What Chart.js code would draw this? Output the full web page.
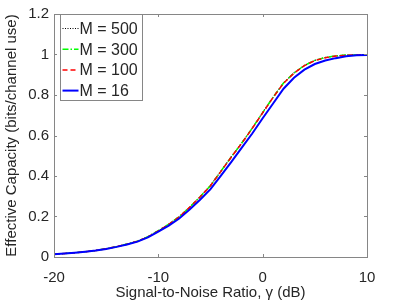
<!DOCTYPE html>
<html>
<head>
<meta charset="utf-8">
<script src="https://cdn.jsdelivr.net/npm/chart.js@4"></script>
<style>
  html, body { margin: 0; padding: 0; background: #fff; }
  #wrap { width: 403px; height: 302px; }
</style>
</head>
<body>
<div id="wrap"><canvas id="cap-chart" width="403" height="302"></canvas></div>
<script>
"use strict";

// SNR grid in dB
const snrDb = [-20, -19, -18, -17, -16, -15, -14, -13, -12, -11, -10, -9, -8, -7, -6, -5,
  -4, -3, -2, -1, 0, 1, 2, 3, 4, 5, 6, 7, 8, 9, 10];

// effective capacity, bits/channel use
const capM500 = [0.014, 0.017, 0.021, 0.026, 0.032, 0.041, 0.051, 0.064, 0.078, 0.100, 0.130,
  0.162, 0.199, 0.246, 0.297, 0.353, 0.424, 0.495, 0.563, 0.636, 0.713, 0.789, 0.859, 0.909,
  0.946, 0.971, 0.985, 0.993, 0.997, 0.998, 0.999];
const capM300 = [0.014, 0.017, 0.021, 0.026, 0.032, 0.041, 0.051, 0.064, 0.078, 0.100, 0.130,
  0.162, 0.199, 0.246, 0.297, 0.353, 0.424, 0.495, 0.563, 0.636, 0.713, 0.789, 0.859, 0.909,
  0.946, 0.971, 0.985, 0.993, 0.997, 0.998, 0.999];
const capM100 = [0.014, 0.017, 0.021, 0.026, 0.032, 0.041, 0.051, 0.063, 0.078, 0.099, 0.129,
  0.161, 0.198, 0.245, 0.296, 0.352, 0.423, 0.494, 0.562, 0.635, 0.712, 0.788, 0.858, 0.908,
  0.945, 0.970, 0.984, 0.992, 0.996, 0.998, 0.999];
const capM16 = [0.014, 0.017, 0.021, 0.026, 0.032, 0.040, 0.050, 0.062, 0.076, 0.097, 0.125,
  0.155, 0.190, 0.235, 0.283, 0.335, 0.402, 0.470, 0.540, 0.610, 0.685, 0.758, 0.831, 0.885,
  0.925, 0.953, 0.970, 0.982, 0.991, 0.996, 0.998];

const xTicks = [-20, -10, 0, 10];
const yTicks = [0, 0.2, 0.4, 0.6, 0.8, 1, 1.2];

const FONT = "'Liberation Sans', Arial, Helvetica, sans-serif";
const TEXT_COLOR = "#262626";
const AXIS_COLOR = "#868686";

function points(ys) {
  return snrDb.map((x, i) => ({ x, y: ys[i] }));
}

const series = [
  { label: "M = 500", data: capM500, color: "#000000", width: 1.2, dash: [1, 1.5], order: 4 },
  { label: "M = 300", data: capM300, color: "#00ff00", width: 1.5, dash: [6, 2, 1.5, 2], order: 3 },
  { label: "M = 100", data: capM100, color: "#ff0000", width: 1.5, dash: [5, 3], order: 2 },
  { label: "M = 16", data: capM16, color: "#0000ff", width: 2, dash: [], order: 1 },
];

// box, inward ticks on all four sides, legend in the upper-left corner
const matlabAxes = {
  id: "matlabAxes",
  afterDraw(chart) {
    const { ctx, chartArea: a, scales } = chart;
    const tl = 3;
    ctx.save();
    ctx.strokeStyle = AXIS_COLOR;
    ctx.lineWidth = 1;
    ctx.strokeRect(Math.round(a.left) + 0.5, Math.round(a.top) + 0.5,
      Math.round(a.right - a.left), Math.round(a.bottom - a.top));
    ctx.beginPath();
    xTicks.forEach((v) => {
      const px = Math.round(scales.x.getPixelForValue(v)) + 0.5;
      ctx.moveTo(px, a.bottom); ctx.lineTo(px, a.bottom - tl);
      ctx.moveTo(px, a.top); ctx.lineTo(px, a.top + tl);
    });
    yTicks.forEach((v) => {
      const py = Math.round(scales.y.getPixelForValue(v)) + 0.5;
      ctx.moveTo(a.left, py); ctx.lineTo(a.left + tl, py);
      ctx.moveTo(a.right, py); ctx.lineTo(a.right - tl, py);
    });
    ctx.stroke();

    // legend
    const lx = Math.round(a.left) + 6.5, ly = Math.round(a.top) + 0.5;
    const lw = 82, lh = 86, rowH = 20.7;
    ctx.fillStyle = "#fff";
    ctx.fillRect(lx, ly, lw, lh);
    ctx.strokeRect(lx, ly, lw, lh);
    ctx.font = "16px " + FONT;
    ctx.textBaseline = "middle";
    series.forEach((s, i) => {
      const cy = ly + 14 + i * rowH;
      ctx.beginPath();
      ctx.strokeStyle = s.color;
      ctx.lineWidth = s.width;
      ctx.setLineDash(s.dash);
      ctx.moveTo(lx + 2, cy);
      ctx.lineTo(lx + 18, cy);
      ctx.stroke();
      ctx.setLineDash([]);
      ctx.fillStyle = TEXT_COLOR;
      ctx.fillText(s.label, lx + 19, cy + 1);
    });
    ctx.restore();
  },
};

new Chart(document.getElementById("cap-chart"), {
  type: "line",
  data: {
    datasets: series.map((s) => ({
      label: s.label,
      data: points(s.data),
      borderColor: s.color,
      borderWidth: s.width,
      borderDash: s.dash,
      pointRadius: 0,
      fill: false,
      tension: 0,
      order: s.order,
    })),
  },
  options: {
    responsive: false,
    animation: false,
    layout: { padding: { top: 14, right: 36, left: 0, bottom: 0 } },
    plugins: { legend: { display: false }, tooltip: { enabled: false } },
    scales: {
      x: {
        type: "linear",
        min: -20,
        max: 10,
        afterBuildTicks: (s) => { s.ticks = xTicks.map((v) => ({ value: v })); },
        afterFit: (s) => { s.height = 45; },
        grid: { display: false, drawTicks: false },
        border: { display: false },
        ticks: { color: TEXT_COLOR, font: { family: FONT, size: 15 }, padding: 12, maxRotation: 0 },
        title: {
          display: true,
          text: "Signal-to-Noise Ratio, γ (dB)",
          color: TEXT_COLOR,
          font: { family: FONT, size: 15 },
          padding: { top: 3, bottom: 0 },
        },
      },
      y: {
        min: 0,
        max: 1.2,
        afterBuildTicks: (s) => { s.ticks = yTicks.map((v) => ({ value: v })); },
        afterFit: (s) => { s.width = 54; },
        grid: { display: false, drawTicks: false },
        border: { display: false },
        ticks: {
          color: TEXT_COLOR,
          font: { family: FONT, size: 15 },
          padding: 5,
          callback: (v) => String(Math.round(v * 10) / 10),
        },
        title: {
          display: true,
          text: "Effective Capacity (bits/channel use)",
          color: TEXT_COLOR,
          font: { family: FONT, size: 15 },
          padding: { top: 3, bottom: 0 },
        },
      },
    },
  },
  plugins: [matlabAxes],
});
</script>
</body>
</html>
